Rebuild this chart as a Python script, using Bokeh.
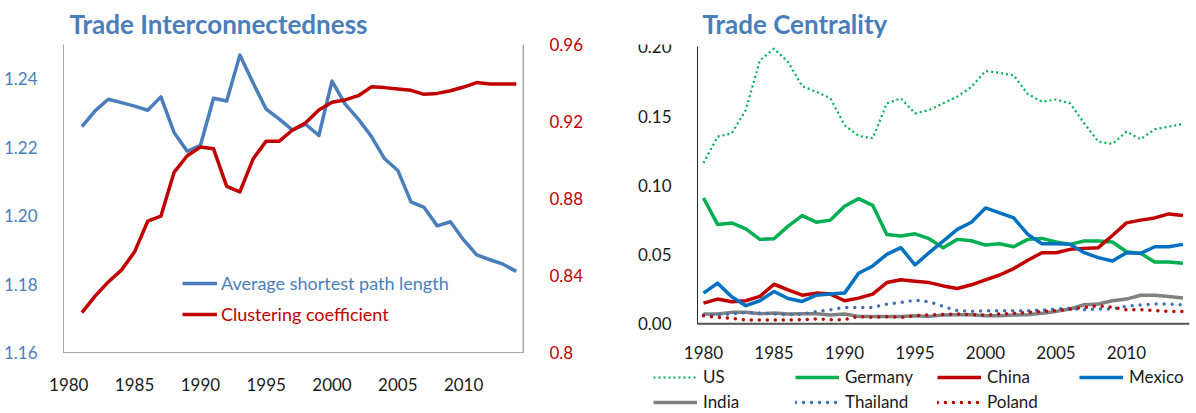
from bokeh.plotting import figure
from bokeh.models import (Range1d, LinearAxis, FixedTicker, NumeralTickFormatter, Legend, LegendItem,
                          BoxAnnotation)
from bokeh.layouts import row
from bokeh.embed import file_html
from bokeh.resources import INLINE

# ---------------- data ----------------
years_left = list(range(1981, 2015))
avg_path = [1.226, 1.2306, 1.234, 1.233, 1.232, 1.2308, 1.2347, 1.2243, 1.2188, 1.2205,
            1.2343, 1.2335, 1.2469, 1.2388, 1.2311, 1.2282, 1.225, 1.2267, 1.2234, 1.2393,
            1.2326, 1.2282, 1.2231, 1.2166, 1.2132, 1.204, 1.2024, 1.197, 1.1982, 1.1929,
            1.1885, 1.1871, 1.1858, 1.1837]
clustering = [0.8207, 0.8293, 0.8366, 0.8428, 0.8523, 0.8682, 0.8708, 0.8936, 0.9022, 0.9067,
              0.9058, 0.8863, 0.8834, 0.9005, 0.9098, 0.9098, 0.9156, 0.9194, 0.926, 0.930,
              0.9312, 0.9334, 0.938, 0.9376, 0.9369, 0.9362, 0.9341, 0.9346, 0.936, 0.9379,
              0.9402, 0.9395, 0.9395, 0.9395]

years_right = list(range(1980, 2015))
us = [0.1162, 0.1353, 0.1377, 0.1545, 0.1904, 0.1988, 0.1892, 0.1717, 0.1677, 0.1629,
      0.1437, 0.1358, 0.1341, 0.1593, 0.1629, 0.1521, 0.1545, 0.1593, 0.1641, 0.1712,
      0.1827, 0.1813, 0.1796, 0.166, 0.1605, 0.1621, 0.1593, 0.1449, 0.1317, 0.130,
      0.1389, 0.1334, 0.1406, 0.1425, 0.1444]
germany = [0.091, 0.0719, 0.073, 0.0687, 0.0611, 0.0616, 0.0707, 0.0783, 0.0735, 0.075,
           0.085, 0.0905, 0.0857, 0.0647, 0.0635, 0.0651, 0.0616, 0.0551, 0.0611, 0.0601,
           0.057, 0.058, 0.0558, 0.0611, 0.0618, 0.0592, 0.0575, 0.0599, 0.0599, 0.0592,
           0.0522, 0.051, 0.0448, 0.0448, 0.0438]
china = [0.0151, 0.018, 0.016, 0.0168, 0.0199, 0.0287, 0.0247, 0.0208, 0.0223, 0.0216,
         0.0168, 0.0187, 0.0216, 0.0299, 0.0319, 0.0309, 0.0299, 0.0275, 0.0256, 0.0283,
         0.0319, 0.0354, 0.040, 0.046, 0.0515, 0.0515, 0.0539, 0.0546, 0.0551, 0.0639,
         0.073, 0.075, 0.0766, 0.0795, 0.0783]
mexico = [0.0223, 0.0295, 0.0196, 0.0132, 0.0168, 0.0235, 0.0184, 0.0163, 0.0208, 0.0216,
          0.0223, 0.0366, 0.0419, 0.0503, 0.0551, 0.0426, 0.0515, 0.0599, 0.0683, 0.0735,
          0.0838, 0.0802, 0.0766, 0.0647, 0.058, 0.058, 0.0575, 0.0515, 0.0479, 0.0455,
          0.0515, 0.051, 0.0558, 0.0558, 0.0575]
india = [0.0072, 0.0072, 0.0084, 0.0084, 0.0074, 0.0079, 0.0072, 0.0074, 0.0074, 0.0065,
         0.0072, 0.0055, 0.0055, 0.0055, 0.0055, 0.006, 0.0055, 0.0065, 0.0067, 0.0067,
         0.006, 0.006, 0.0065, 0.0067, 0.0077, 0.0091, 0.0108, 0.0139, 0.0144, 0.0168,
         0.018, 0.0208, 0.0208, 0.0199, 0.0187]
thailand = [0.0065, 0.0065, 0.0072, 0.0084, 0.0079, 0.0072, 0.0067, 0.0072, 0.0089, 0.0103,
            0.012, 0.012, 0.012, 0.0144, 0.0156, 0.0172, 0.016, 0.0127, 0.0096, 0.0091,
            0.0096, 0.0096, 0.0096, 0.0096, 0.010, 0.0108, 0.0113, 0.0103, 0.0108, 0.0108,
            0.0127, 0.0137, 0.0144, 0.0144, 0.0137]
poland = [0.006, 0.0048, 0.0041, 0.0029, 0.0029, 0.0029, 0.0029, 0.0031, 0.0036, 0.0031,
          0.0031, 0.0055, 0.0048, 0.0053, 0.0048, 0.006, 0.0065, 0.0069, 0.0072, 0.0067,
          0.0065, 0.0072, 0.0077, 0.0084, 0.0089, 0.0096, 0.0108, 0.012, 0.0132, 0.012,
          0.0103, 0.0103, 0.0096, 0.0091, 0.0091]

left_ticks = [1.16, 1.18, 1.20, 1.22, 1.24]
right_ticks = [0.8, 0.84, 0.88, 0.92, 0.96]
year_ticks = [1980, 1985, 1990, 1995, 2000, 2005, 2010]
cent_ticks = [0.0, 0.05, 0.10, 0.15, 0.20]

FONT = "Lato"
BLUE = "#4A7EBB"
RED = "#C00000"
TITLE_COLOR = "#4A7EBB"


def style_axis(ax, color, label_color, size="17px", standoff=20):
    ax.axis_line_color = color
    ax.major_tick_line_color = None
    ax.minor_tick_line_color = None
    ax.major_label_text_font = FONT
    ax.major_label_text_font_size = size
    ax.major_label_text_color = label_color
    ax.major_label_standoff = standoff


def style_title(p, offset):
    p.title.text_font = FONT
    p.title.text_font_size = "26px"
    p.title.text_font_style = "bold"
    p.title.text_color = TITLE_COLOR
    p.title.offset = offset
    p.title.standoff = 10


def rule(p, left, right, bottom, top, color):
    # thin filled strip used as an axis rule
    p.add_layout(BoxAnnotation(left=left, right=right, bottom=bottom, top=top,
                               fill_color=color, fill_alpha=1.0, line_color=None))


# ---------------- left chart ----------------
LX0, LX1 = 1979.6, 2014.55
LPX = 1 / 13.1617      # one pixel in years
LPY = 1 / 3422.2       # one pixel in left-axis units
p1 = figure(width=600, height=413, x_range=Range1d(1975.1933, LX1), y_range=Range1d(1.142175, 1.25),
            output_backend="svg", toolbar_location=None,
            min_border_left=5, min_border_right=77, min_border_top=44, min_border_bottom=0,
            title="Trade Interconnectedness")
p1.extra_y_ranges = {"cc": Range1d(0.768312, 0.96)}
p1.outline_line_color = None
p1.xgrid.visible = False
p1.ygrid.visible = False
style_title(p1, 64)

p1.xaxis.ticker = FixedTicker(ticks=year_ticks)
p1.xaxis.formatter = NumeralTickFormatter(format="0")
p1.xaxis.fixed_location = left_ticks[0]
p1.xaxis.bounds = (LX0, LX1)
style_axis(p1.xaxis[0], "#A6A6A6", "#1a1a1a")
p1.yaxis.ticker = FixedTicker(ticks=left_ticks)
p1.yaxis.formatter = NumeralTickFormatter(format="0.00")
p1.yaxis.bounds = (1.16, 1.25)
p1.yaxis.fixed_location = LX0
style_axis(p1.yaxis[0], "#A6A6A6", BLUE)

rax = LinearAxis(y_range_name="cc", ticker=FixedTicker(ticks=right_ticks),
                 formatter=NumeralTickFormatter(format="0.0[0]"), bounds=(0.8, 0.96))
style_axis(rax, "#A6A6A6", RED)
p1.add_layout(rax, "right")

rule(p1, LX0 - LPX / 2, LX0 + LPX / 2, 1.16, 1.25, "#A6A6A6")
rule(p1, LX1 - LPX, LX1, 1.16, 1.25, "#A6A6A6")
rule(p1, LX0, LX1, 1.16 - LPY / 2, 1.16 + LPY / 2, "#A6A6A6")

r_avg = p1.line(years_left, avg_path, line_color=BLUE, line_width=3.5, line_join="round")
r_cc = p1.line(years_left, clustering, line_color=RED, line_width=3.5, line_join="round",
               y_range_name="cc")

for item, col, yloc in [(LegendItem(label="Average shortest path length", renderers=[r_avg]), BLUE, 119),
                        (LegendItem(label="Clustering coefficient", renderers=[r_cc]), RED, 88)]:
    lg = Legend(items=[item], location=(177, yloc), glyph_width=35, glyph_height=20,
                label_height=20, label_standoff=4, padding=0, margin=0, spacing=0,
                background_fill_alpha=0, border_line_color=None,
                label_text_font=FONT, label_text_font_size="18px", label_text_color=col)
    p1.add_layout(lg)

# ---------------- right chart ----------------
X0 = 1979.5745
X1 = 2014.468
RPX = 1 / 14.1         # one pixel in years
RPY = 1 / 1385.0       # one pixel in centrality units
p2 = figure(width=596, height=413, x_range=Range1d(1974.8227, X1), y_range=Range1d(-0.064621, 0.201805),
            output_backend="svg", toolbar_location=None,
            min_border_left=30, min_border_right=7, min_border_top=44, min_border_bottom=0,
            title="Trade Centrality")
p2.outline_line_color = None
p2.xgrid.visible = False
p2.ygrid.visible = False
style_title(p2, 72)

p2.xaxis.ticker = FixedTicker(ticks=year_ticks)
p2.xaxis.formatter = NumeralTickFormatter(format="0")
p2.xaxis.fixed_location = 0
p2.xaxis.bounds = (X0, X1)
style_axis(p2.xaxis[0], "#595959", "#1a1a1a", standoff=16)
p2.xaxis.axis_line_width = 1.5

p2.yaxis.ticker = FixedTicker(ticks=cent_ticks)
p2.yaxis.formatter = NumeralTickFormatter(format="0.00")
p2.yaxis.bounds = (0, 0.2)
p2.yaxis.fixed_location = X0
style_axis(p2.yaxis[0], "#262626", "#1a1a1a")

GREEN = "#00B050"
MEX = "#0070C0"
GRAY = "#808080"
THAI = "#3F72B8"

r_us = p2.line(years_right, us, line_color=GREEN, line_width=2.2, line_dash="2 3")
r_de = p2.line(years_right, germany, line_color=GREEN, line_width=3.5, line_join="round")
r_cn = p2.line(years_right, china, line_color=RED, line_width=3.5, line_join="round")
r_mx = p2.line(years_right, mexico, line_color=MEX, line_width=3.5, line_join="round")
r_in = p2.line(years_right, india, line_color=GRAY, line_width=3.5, line_join="round")
r_th = p2.line(years_right, thailand, line_color=THAI, line_width=3.5, line_dash="0 8", line_cap="round")
r_pl = p2.line(years_right, poland, line_color=RED, line_width=3.5, line_dash="0 8", line_cap="round")

rule(p2, X0 - RPX / 2, X0 + RPX / 2, 0, 0.2, "#262626")
rule(p2, X0, X1, -RPY * 0.75, RPY * 0.75, "#595959")

legend_rows = [
    ([("US", r_us), ("Germany", r_de), ("China", r_cn), ("Mexico", r_mx)], 26),
    ([("India", r_in), ("Thailand", r_th), ("Poland", r_pl)], 1),
]
for entries, yloc in legend_rows:
    lg = Legend(items=[LegendItem(label=lab, renderers=[r]) for lab, r in entries],
                orientation="horizontal", location=(23, yloc),
                glyph_width=44, glyph_height=20, label_height=20, label_width=87,
                label_standoff=6, spacing=5, padding=0, margin=0,
                background_fill_alpha=0, border_line_color=None,
                label_text_font=FONT, label_text_font_size="17px", label_text_color="#1a1a1a")
    p2.add_layout(lg)

layout = row(p1, p2)
open("out.html", "w").write(file_html(layout, INLINE))
